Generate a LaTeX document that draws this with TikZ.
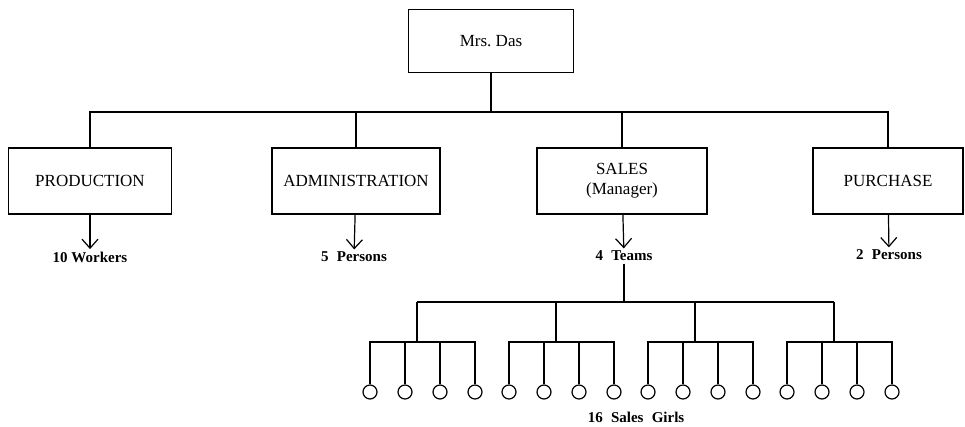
\documentclass[tikz,border=0pt]{standalone}
\usepackage{fontspec}
\setmainfont{Liberation Serif}
\usetikzlibrary{arrows.meta}

\tikzset{
  box/.style={draw, line width=1.2pt, minimum width=165pt, minimum height=66pt,
    align=center, font=\fontsize{17}{20}\selectfont},
  count/.style={font=\bfseries\fontsize{15}{17}\selectfont, inner sep=2pt},
  girl/.style={draw, circle, line width=1.2pt, minimum size=14pt, inner sep=0pt},
  arr/.style={-{Straight Barb[length=9pt,width=16pt]}}
}

\begin{document}
\begin{tikzpicture}[x=1pt, y=-1pt, node distance=266pt, line width=1.2pt]
\useasboundingbox (0,0) rectangle (965,426);

\node[box, minimum height=63pt] (das) at (491,41) {Mrs.\ Das};
\node[box, minimum width=163pt] (prod) at (90,181) {PRODUCTION};
\node[box, minimum width=168pt, right of=prod] (admin) {ADMINISTRATION};
\node[box, minimum width=170pt, right of=admin] (sales) {SALES\\(Manager)};
\node[box, minimum width=150pt, right of=sales] (purch) {PURCHASE};

\coordinate (bus) at (491,112);
\draw (das) -- (bus);
\foreach \d in {prod,admin,sales,purch}
  \draw (\d) |- (bus);

\node[count] (workers) at (90,257) {10 Workers};
\node[count] (staff) at (354,257) {5\hspace{0.3em} Persons};
\node[count] (teams) at (624,256) {4\hspace{0.3em} Teams};
\node[count] (buyers) at (889,255) {2\hspace{0.3em} Persons};

\draw[arr] (prod) -- (workers);
\draw[arr] (admin) -- (staff);
\draw[arr] (sales) -- (teams);
\draw[arr] (purch) -- (buyers);

% sales teams
\foreach \t in {1,...,4} {
  \coordinate (split\t) at ({278+139*\t},302);
  \coordinate (team\t) at ({278+139*\t},342);
  \draw (split\t) -- (team\t);
  \foreach \k in {1,...,4} {
    \node[girl] (girl\t\k) at ({196+139*\t+35*\k},392) {};
    \draw (girl\t\k) |- (team\t);
  }
}
\draw (split1) -- (split4);
\draw (teams) -- (teams |- split1);

\node[count] (girls) at (636,417) {16\hspace{0.3em} Sales\hspace{0.3em} Girls};

\end{tikzpicture}
\end{document}
